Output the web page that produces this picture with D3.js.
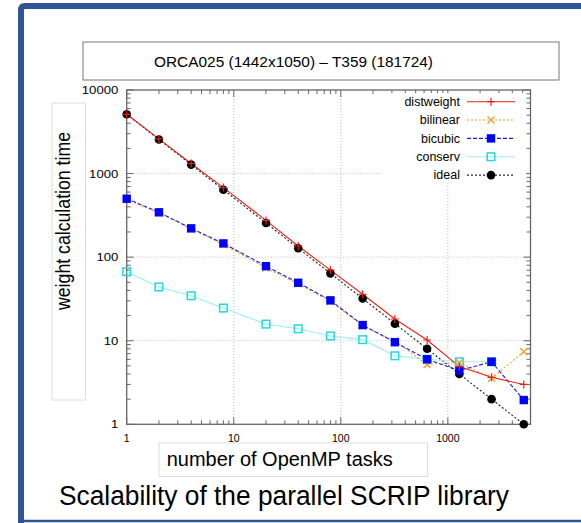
<!DOCTYPE html>
<html><head><meta charset="utf-8">
<script src="https://cdn.jsdelivr.net/npm/d3@7"></script>
<style>body{margin:0;background:#fff}svg{display:block}text{font-family:"Liberation Sans",Arial,sans-serif}</style>
</head><body>
<svg id="c" width="581" height="523"></svg>
<script>
const tasks = [1, 2, 4, 8, 20, 40, 80, 160, 320, 640, 1280, 2560, 5120];
const distweight = [5120, 2600, 1320, 680, 275, 136, 70, 36, 18.2, 10.2, 4.9, 3.65, 3.0];
const bilinear = [490, 340, 218, 142, 74, 48, 29.5, 15, 9.9, 5.2, 5.5, 3.55, 7.4];
const bicubic = [500, 344, 221, 146, 78, 49.4, 30.4, 15.4, 9.6, 6.0, 4.4, 5.6, 1.95];
const conserv = [67, 44, 34.5, 24.6, 15.8, 13.9, 11.4, 10.3, 6.6, 6.0, 5.6, 5.6, null];
const ideal = [5120, 2560, 1280, 640, 256, 128, 64, 32, 16, 8, 4, 2, 1];
const xTicks = [1, 10, 100, 1000];
const yTicks = [1, 10, 100, 1000, 10000];
const seriesNames = ["distweight", "bilinear", "bicubic", "conserv", "ideal"];

const series = [
  {name: "distweight", vals: distweight, color: "#e8201a", dash: null, marker: "plus", mcolor: "#e8201a"},
  {name: "bilinear", vals: bilinear, color: "#f0a030", dash: "2,2", marker: "cross", mcolor: "#f0a030"},
  {name: "bicubic", vals: bicubic, color: "#1a1aff", dash: "4,2", marker: "fsquare", mcolor: "#0000ff"},
  {name: "conserv", vals: conserv, color: "#9eeeee", dash: null, marker: "osquare", mcolor: "#22d8e0"},
  {name: "ideal", vals: ideal, color: "#222", dash: "2,2", marker: "dot", mcolor: "#000"}
];

const svg = d3.select("#c");
// blue slide frame
svg.append("path").attr("d", "M21,523 L21,10 Q21,6 25,6 L581,6").attr("fill","none").attr("stroke","#2f5597").attr("stroke-width",6);
svg.append("line").attr("x1",18).attr("x2",581).attr("y1",521).attr("y2",521).attr("stroke","#2f5597").attr("stroke-width",2.5);

// title box
svg.append("rect").attr("x",83).attr("y",42).attr("width",476).attr("height",38).attr("fill","#fff").attr("stroke","#777").attr("stroke-width",1);
svg.append("text").attr("x",154).attr("y",66.5).attr("font-size",15.5).attr("textLength",279).attr("lengthAdjust","spacingAndGlyphs").text("ORCA025 (1442x1050) – T359 (181724)");

const L = 126.7, R = 530.5, T = 90, B = 424.3;
const x = d3.scaleLog().domain([1, Math.pow(10, (R - L) / 107.05)]).range([L, R]);
const y = d3.scaleLog().domain([1, 10000]).range([B, T]);

// grid
const g = svg.append("g");
xTicks.slice(1).forEach(v => g.append("line").attr("x1",x(v)).attr("x2",x(v)).attr("y1",T).attr("y2",B).attr("stroke","#bbb").attr("stroke-width",1).attr("stroke-dasharray","1,2"));
yTicks.slice(1,-1).forEach(v => g.append("line").attr("x1",L).attr("x2",R).attr("y1",y(v)).attr("y2",y(v)).attr("stroke","#bbb").attr("stroke-width",1).attr("stroke-dasharray","1,2"));

// axes with ticks inward
const minorX = [];
for (let d = 1; d <= 1000; d *= 10) for (let k = 1; k < 10; k++) { const v = d * k; if (v <= x.domain()[1]) minorX.push(v); }
const minorY = [];
for (let d = 1; d < 10000; d *= 10) for (let k = 1; k < 10; k++) minorY.push(d * k);
minorY.push(10000);

function tickLen(v) { return Math.abs(Math.log10(v) - Math.round(Math.log10(v))) < 1e-9 ? 7 : 4; }

const ax = svg.append("g");
ax.append("g").attr("transform",`translate(0,${B})`).call(d3.axisBottom(x).tickValues(minorX).tickSize(0).tickFormat(""));
ax.append("g").attr("transform",`translate(${L},0)`).call(d3.axisLeft(y).tickValues(minorY).tickSize(0).tickFormat(""));
ax.selectAll(".domain").remove();
minorX.forEach(v => {
  const l = tickLen(v);
  ax.append("line").attr("x1",x(v)).attr("x2",x(v)).attr("y1",B).attr("y2",B-l).attr("stroke","#666");
  ax.append("line").attr("x1",x(v)).attr("x2",x(v)).attr("y1",T).attr("y2",T+l).attr("stroke","#666");
});
minorY.forEach(v => {
  const l = tickLen(v);
  ax.append("line").attr("x1",L).attr("x2",L+l).attr("y1",y(v)).attr("y2",y(v)).attr("stroke","#666");
  ax.append("line").attr("x1",R).attr("x2",R-l).attr("y1",y(v)).attr("y2",y(v)).attr("stroke","#666");
});
svg.append("rect").attr("x",L).attr("y",T).attr("width",R-L).attr("height",B-T).attr("fill","none").attr("stroke","#666").attr("stroke-width",1.3);

xTicks.forEach(v => svg.append("text").attr("x",x(v)).attr("y",B+18).attr("text-anchor","middle").attr("font-size",10.5).text(v));
yTicks.forEach(v => {
  const s = String(v);
  svg.append("text").attr("x",L-8.4 - s.length*7.3).attr("y",y(v)+4).attr("font-size",11)
    .attr("textLength", s.length*7.3).attr("lengthAdjust","spacingAndGlyphs").text(s);
});

// legend background
svg.append("rect").attr("x",380).attr("y",93).attr("width",146).attr("height",89).attr("fill","#fff");

function marker(sel, type, color) {
  if (type === "plus") sel.append("path").attr("d","M-4,0H4M0,-4V4").attr("stroke",color).attr("stroke-width",1.2).attr("fill","none");
  else if (type === "cross") sel.append("path").attr("d","M-3.5,-3.5L3.5,3.5M-3.5,3.5L3.5,-3.5").attr("stroke",color).attr("stroke-width",1.4).attr("fill","none");
  else if (type === "fsquare") sel.append("rect").attr("x",-4.2).attr("y",-4.2).attr("width",8.4).attr("height",8.4).attr("fill",color);
  else if (type === "osquare") sel.append("rect").attr("x",-3.8).attr("y",-3.8).attr("width",7.6).attr("height",7.6).attr("fill","none").attr("stroke",color).attr("stroke-width",1.5);
  else if (type === "dot") sel.append("circle").attr("r",4.3).attr("fill",color);
}

const line = d3.line().defined(d => d[1] != null).x(d => x(d[0])).y(d => y(d[1]));
const drawOrder = ["ideal", "conserv", "bilinear", "bicubic", "distweight"];
drawOrder.forEach(n => {
  const s = series.find(q => q.name === n);
  const pts = tasks.map((t, i) => [t, s.vals[i]]);
  svg.append("path").datum(pts).attr("d", line).attr("fill","none").attr("stroke",s.color).attr("stroke-width",1.1).attr("stroke-dasharray",s.dash);
});
drawOrder.forEach(n => {
  const s = series.find(q => q.name === n);
  tasks.forEach((t, i) => {
    if (s.vals[i] == null) return;
    marker(svg.append("g").attr("transform",`translate(${x(t)},${y(s.vals[i])})`), s.marker, s.mcolor);
  });
});

// legend
series.forEach((s, i) => {
  const ly = 101.7 + i * 18.35;
  svg.append("text").attr("x",460).attr("y",ly+4.3).attr("text-anchor","end").attr("font-size",12.5).text(seriesNames[i]);
  svg.append("line").attr("x1",467).attr("x2",515).attr("y1",ly).attr("y2",ly).attr("stroke",s.color).attr("stroke-width",1.1).attr("stroke-dasharray",s.dash);
  marker(svg.append("g").attr("transform",`translate(491,${ly})`), s.marker, s.mcolor);
});

// y label box
svg.append("rect").attr("x",52).attr("y",103).attr("width",33.5).attr("height",297).attr("fill","none").attr("stroke","#ddd");
svg.append("text").attr("transform","translate(70,310) rotate(-90)").attr("font-size",20).attr("textLength",178).attr("lengthAdjust","spacingAndGlyphs").text("weight calculation time");

// x label box
svg.append("rect").attr("x",159).attr("y",443).attr("width",268.5).attr("height",33.5).attr("fill","#fff").attr("stroke","#ddd");
svg.append("text").attr("x",166.7).attr("y",465.5).attr("font-size",19.5).attr("textLength",226).attr("lengthAdjust","spacingAndGlyphs").text("number of OpenMP tasks");

svg.append("text").attr("x",59).attr("y",505).attr("font-size",27).attr("textLength",450).attr("lengthAdjust","spacingAndGlyphs").text("Scalability of the parallel SCRIP library");
</script>
</body></html>
